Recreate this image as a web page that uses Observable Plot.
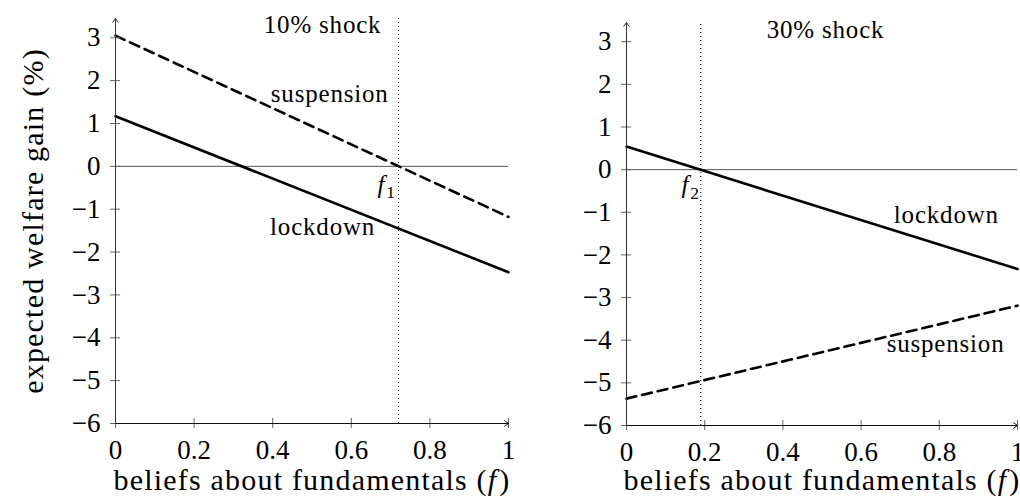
<!DOCTYPE html>
<html><head><meta charset="utf-8">
<script src="https://cdn.jsdelivr.net/npm/d3@7"></script>
<script src="https://cdn.jsdelivr.net/npm/@observablehq/plot@0.6"></script>
<style>
body{margin:0;background:#fff;}
#wrap{display:flex;width:1020px;height:500px;overflow:hidden;background:#fff;}
#wrap svg{display:block;overflow:visible;flex:none;}
#wrap svg, #wrap svg text, #wrap svg tspan{font-family:"Liberation Serif", "DejaVu Serif", serif !important;}
g.axlabel text{letter-spacing:1.2px;}
g.annot text{letter-spacing:0.8px;}
</style></head><body><div id="wrap"></div>
<script>
// ---- data ----
const beliefs = [0, 1];
const lockdown10 = [1.17, -2.47];
const suspension10 = [3.05, -1.18];
const lockdown30 = [0.54, -2.33];
const suspension30 = [-5.37, -3.19];
const thresholds = [0.72, 0.19];           // f1, f2
const thresholdNames = ["f1", "f2"];
const shockTitles = ["10% shock", "30% shock"];
const seriesNames = ["lockdown", "suspension"];
const xTicks = [0, 0.2, 0.4, 0.6, 0.8, 1];
const yTicks = [-6, -5, -4, -3, -2, -1, 0, 1, 2, 3];
const xLabel = "beliefs about fundamentals (f)";
const yLabel = "expected welfare gain (%)";
const xDomain = [0, 1];
const yDomain = [-6, 3.45];

// annotation anchor points (data coordinates) per panel
const annot10 = [
  {x: 0.527, y: 3.29, t: shockTitles[0]},
  {x: 0.545, y: 1.68, t: seriesNames[1]},
  {x: 0.527, y: -1.42, t: seriesNames[0]},
  {x: 0.69, y: -0.44, t: thresholdNames[0]}
];
const annot30 = [
  {x: 0.509, y: 3.28, t: shockTitles[1]},
  {x: 0.818, y: -1.07, t: seriesNames[0]},
  {x: 0.816, y: -4.10, t: seriesNames[1]},
  {x: 0.164, y: -0.37, t: thresholdNames[1]}
];

const FONT = "Liberation Serif";
const fmtY = d => d < 0 ? "\u2212" + (-d) : String(d);
const fmtX = d => String(d);

function panel({lock, susp, thr, annots, width, marginLeft, marginRight, marginTop, marginBottom, labelDy, showYLabel}) {
  const rows = beliefs.map((b, k) => ({f: b, lockdown: lock[k], suspension: susp[k]}));
  const marks = [
    Plot.ruleY([0], {x1: xDomain[0], x2: xDomain[1], stroke: "#555", strokeWidth: 1}),
    Plot.ruleX([thr], {y1: yDomain[0], y2: yDomain[1], stroke: "#000", strokeWidth: 1, strokeDasharray: "1,3"}),
    Plot.line(rows, {x: "f", y: "lockdown", stroke: "#000", strokeWidth: 2.6}),
    Plot.line(rows, {x: "f", y: "suspension", stroke: "#000", strokeWidth: 2.6, strokeDasharray: "10,6"}),
    Plot.ruleY(yTicks, {y: d => d, x1: xDomain[0], x2: xDomain[0], insetLeft: -5, insetRight: -5, stroke: "#666", strokeWidth: 1}),
    Plot.ruleX(xTicks, {x: d => d, y1: yDomain[0], y2: yDomain[0], insetTop: -5, insetBottom: -5, stroke: "#666", strokeWidth: 1}),
    Plot.arrow([0], {x1: xDomain[0], x2: xDomain[0], y1: yDomain[0], y2: yDomain[1], stroke: "#333", strokeWidth: 1, headLength: 7, headAngle: 70}),
    Plot.arrow([0], {x1: xDomain[0], x2: xDomain[1], y1: yDomain[0], y2: yDomain[0], stroke: "#111", strokeWidth: 1, headLength: 7, headAngle: 70}),
    Plot.axisY(yTicks, {tickSize: 0, tickPadding: 15, label: null, fontSize: 27, fontFamily: FONT, tickFormat: fmtY}),
    Plot.axisX(xTicks, {tickSize: 0, tickPadding: 16, label: null, fontSize: 27, fontFamily: FONT, tickFormat: fmtX}),
    Plot.text(annots, {x: "x", y: "y", text: "t", fontSize: 25, fontFamily: FONT, textAnchor: "middle", lineAnchor: "middle", className: "annot"}),
    Plot.text([xLabel], {text: d => d, frameAnchor: "bottom", dy: labelDy, fontSize: 30, fontFamily: FONT, className: "axlabel"})
  ];
  if (showYLabel) {
    marks.push(Plot.text([yLabel], {text: d => d, frameAnchor: "left", rotate: -90, dx: -82, fontSize: 30, fontFamily: FONT, lineAnchor: "middle", textAnchor: "middle", className: "axlabel"}));
  }
  const svg = Plot.plot({
    width, height: 500, marginLeft, marginRight, marginTop, marginBottom,
    x: {domain: xDomain},
    y: {domain: yDomain},
    style: {fontFamily: FONT, background: "white", color: "black", overflow: "visible"},
    marks
  });
  richText(svg);
  return svg;
}

function richText(svg) {
  d3.select(svg).selectAll("text").each(function() {
    const t = this.textContent;
    const sel = d3.select(this);
    let m;
    if (t === xLabel) {
      sel.text(null);
      sel.append("tspan").text(t.slice(0, -2));
      sel.append("tspan").attr("font-style", "italic").text("f");
      sel.append("tspan").attr("dx", 2).text(")");
    } else if ((m = /^f(\d)$/.exec(t))) {
      sel.text(null);
      sel.append("tspan").attr("font-style", "italic").text("f");
      sel.append("tspan").attr("font-size", "0.7em").attr("dy", "0.3em").attr("dx", 1).text(m[1]);
    }
  });
}

const wrap = document.getElementById("wrap");
wrap.appendChild(panel({lock: lockdown10, susp: suspension10, thr: thresholds[0], annots: annot10,
  width: 520, marginLeft: 115, marginRight: 12, marginTop: 18, marginBottom: 77, labelDy: 66, showYLabel: true}));
wrap.appendChild(panel({lock: lockdown30, susp: suspension30, thr: thresholds[1], annots: annot30,
  width: 500, marginLeft: 106, marginRight: 3, marginTop: 22, marginBottom: 75, labelDy: 64, showYLabel: false}));
</script></body></html>
